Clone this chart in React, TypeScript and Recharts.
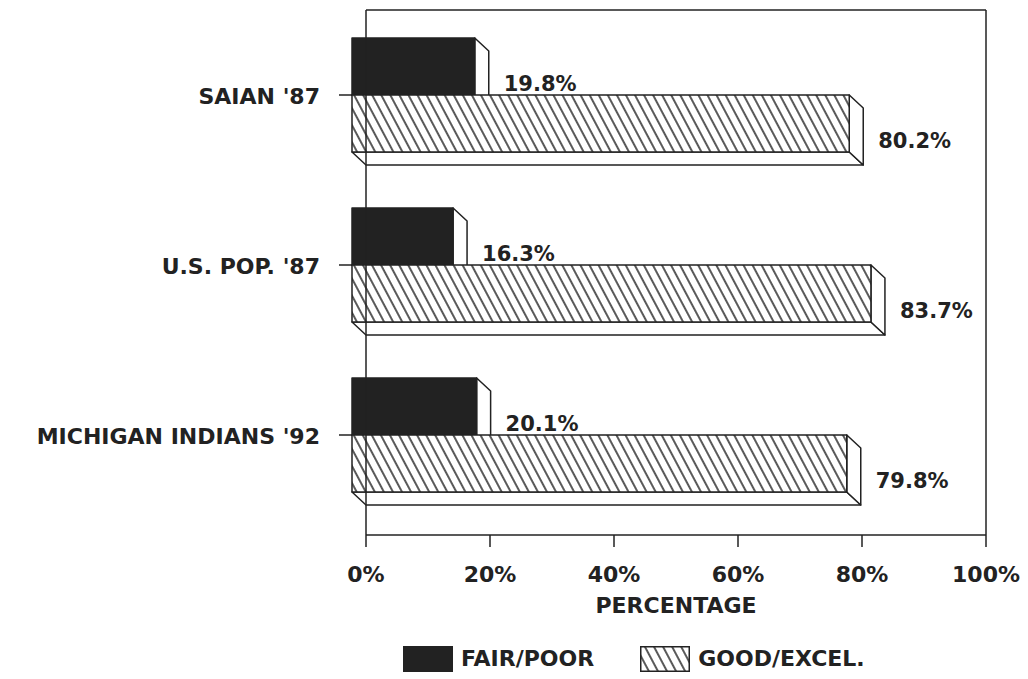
import { BarChart, Bar, XAxis, YAxis, Legend, LabelList } from 'recharts'

const categories = ["SAIAN '87", "U.S. POP. '87", "MICHIGAN INDIANS '92"]
const fairPoor = [19.8, 16.3, 20.1]
const goodExcel = [80.2, 83.7, 79.8]
const seriesNames = ['FAIR/POOR', 'GOOD/EXCEL.']
const xTicks = [0, 20, 40, 60, 80, 100]

const data = categories.map((name, i) => ({ name, fair: fairPoor[i], good: goodExcel[i] }))

const INK = '#222'
const FONT = '"DejaVu Sans", Verdana, sans-serif'
// depth of the fake 3d extrusion (front face sits up-left of the bar box)
const DX = 14
const DY = 13

if (typeof document !== 'undefined') document.body.style.margin = '0'

function Bar3D(props: any) {
  const { x, y, width, height, fill } = props
  if (width == null || height == null) return null
  const fx = x - DX
  const fy = y - DY
  return (
    <g stroke={INK} strokeWidth={1.5} strokeLinejoin="round">
      <polygon
        points={`${fx},${fy + height} ${fx + width},${fy + height} ${x + width},${y + height} ${x},${y + height}`}
        fill="#fff"
      />
      <polygon
        points={`${fx + width},${fy} ${x + width},${y} ${x + width},${y + height} ${fx + width},${fy + height}`}
        fill="#fff"
      />
      <rect x={fx} y={fy} width={width} height={height} fill={fill} />
    </g>
  )
}

function ValueLabel(props: any) {
  const { x, y, width, height, value } = props
  return (
    <text
      x={x + width + 15}
      y={y + height - 17}
      fill={INK}
      fontFamily={FONT}
      fontWeight="bold"
      fontSize={21}
    >
      {`${Number(value).toFixed(1)}%`}
    </text>
  )
}

function CategoryTick(props: any) {
  const { x, y, payload } = props
  return (
    <g>
      <line x1={x - DX - 13} x2={x - DX} y1={y - DY} y2={y - DY} stroke={INK} strokeWidth={1.5} />
      <text
        x={x - 46}
        y={y - DY + 9}
        textAnchor="end"
        fill={INK}
        fontFamily={FONT}
        fontWeight="bold"
        fontSize={22}
      >
        {payload.value}
      </text>
    </g>
  )
}

function LegendContent(props: any) {
  const items = props.payload ?? []
  return (
    <div style={{ display: 'flex', alignItems: 'center', height: 40, paddingLeft: 403 }}>
      {items.map((it: any, i: number) => (
        <div key={it.value} style={{ display: 'flex', alignItems: 'center', marginRight: i === 0 ? 46 : 0 }}>
          <svg width={50} height={26} style={{ display: 'block' }}>
            <rect
              x={0.75}
              y={0.75}
              width={48.5}
              height={24.5}
              fill={i === 0 ? INK : 'url(#hatch)'}
              stroke={INK}
              strokeWidth={1.5}
            />
          </svg>
          <span
            style={{
              marginLeft: 8,
              fontFamily: FONT,
              fontWeight: 'bold',
              fontSize: 22,
              color: INK,
              lineHeight: '26px',
            }}
          >
            {it.value}
          </span>
        </div>
      ))}
    </div>
  )
}

export default function App() {
  return (
    <div style={{ width: 1028, height: 679, background: '#fff' }}>
      <BarChart
        width={1028}
        height={679}
        data={data}
        layout="vertical"
        barGap={0}
        margin={{ top: 9, right: 41, bottom: 0, left: 0 }}
      >
        <defs>
          <pattern id="hatch" width={8} height={8} patternUnits="userSpaceOnUse" patternTransform="rotate(-28)">
            <rect width={8} height={8} fill="#fff" />
            <line x1={4} y1={0} x2={4} y2={8} stroke={INK} strokeWidth={1.5} />
          </pattern>
        </defs>
        <XAxis
          type="number"
          domain={[0, 100]}
          ticks={xTicks}
          tickFormatter={v => `${v}%`}
          height={104}
          axisLine={{ stroke: INK, strokeWidth: 1.5 }}
          tickLine={{ stroke: INK, strokeWidth: 1.5 }}
          tickSize={12}
          tickMargin={19}
          tick={{ fill: INK, fontSize: 22, fontWeight: 'bold', fontFamily: FONT }}
          label={{
            value: 'PERCENTAGE',
            position: 'insideBottom',
            offset: 26,
            fill: INK,
            fontSize: 22,
            fontWeight: 'bold',
            fontFamily: FONT,
          }}
        />
        <XAxis
          xAxisId="top"
          orientation="top"
          type="number"
          domain={[0, 100]}
          height={1}
          tick={false}
          tickLine={false}
          axisLine={{ stroke: INK, strokeWidth: 1.5 }}
        />
        <YAxis
          type="category"
          dataKey="name"
          width={366}
          padding={{ top: 13, bottom: 2 }}
          tickSize={0}
          tickMargin={0}
          tickLine={false}
          axisLine={{ stroke: INK, strokeWidth: 1.5 }}
          tick={<CategoryTick />}
        />
        <YAxis
          yAxisId="right"
          orientation="right"
          type="number"
          domain={[0, 1]}
          width={1}
          tick={false}
          tickLine={false}
          axisLine={{ stroke: INK, strokeWidth: 1.5 }}
        />
        <Legend
          verticalAlign="bottom"
          height={40}
          wrapperStyle={{ left: 0, width: 1028, bottom: 0 }}
          content={<LegendContent />}
        />
        <Bar dataKey="fair" name={seriesNames[0]} fill={INK} barSize={57} shape={<Bar3D />} isAnimationActive={false}>
          <LabelList dataKey="fair" content={<ValueLabel />} />
        </Bar>
        <Bar dataKey="good" name={seriesNames[1]} fill="url(#hatch)" barSize={57} shape={<Bar3D />} isAnimationActive={false}>
          <LabelList dataKey="good" content={<ValueLabel />} />
        </Bar>
      </BarChart>
    </div>
  )
}
